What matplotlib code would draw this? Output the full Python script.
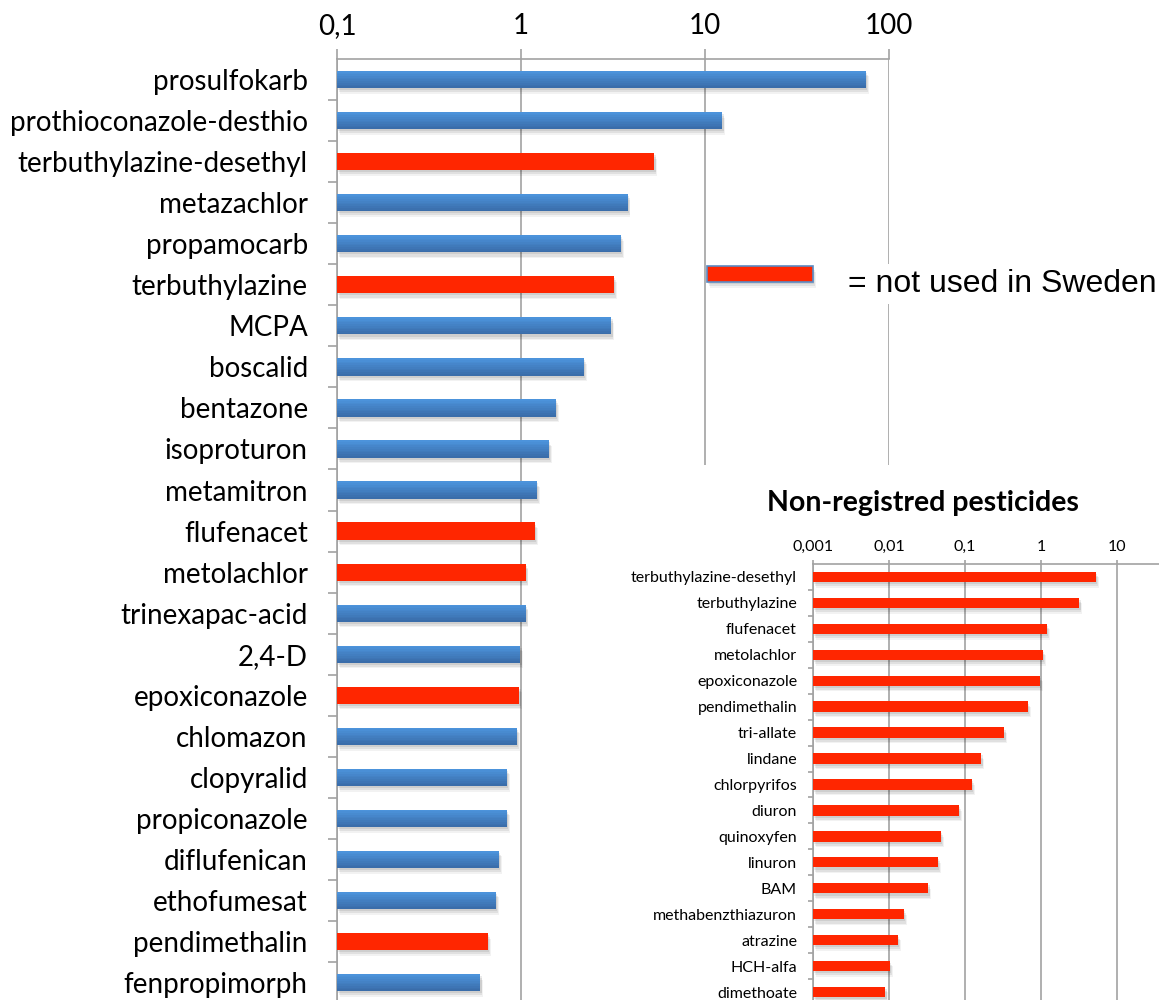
import numpy as np
import matplotlib
matplotlib.use("Agg")
import matplotlib.pyplot as plt
from matplotlib import patheffects as pe
from matplotlib.patches import Rectangle
from matplotlib.colors import to_rgb

# pesticide concentrations, main panel (top to bottom)
main_names = ["prosulfokarb", "prothioconazole-desthio", "terbuthylazine-desethyl",
              "metazachlor", "propamocarb", "terbuthylazine", "MCPA", "boscalid",
              "bentazone", "isoproturon", "metamitron", "flufenacet", "metolachlor",
              "trinexapac-acid", "2,4-D", "epoxiconazole", "chlomazon", "clopyralid",
              "propiconazole", "diflufenican", "ethofumesat", "pendimethalin",
              "fenpropimorph"]
main_vals = [75, 12.4, 5.3, 3.8, 3.5, 3.2, 3.1, 2.2, 1.55, 1.42, 1.22, 1.19, 1.06,
             1.06, 0.99, 0.98, 0.95, 0.84, 0.84, 0.76, 0.73, 0.66, 0.60]
main_banned = [0, 0, 1, 0, 0, 1, 0, 0, 0, 0, 0, 1, 1, 0, 0, 1, 0, 0, 0, 0, 0, 1, 0]
main_ticks = [0.1, 1, 10, 100]
main_ticklabels = ["0,1", "1", "10", "100"]

# non-registered substances, inset panel
ins_names = ["terbuthylazine-desethyl", "terbuthylazine", "flufenacet", "metolachlor",
             "epoxiconazole", "pendimethalin", "tri-allate", "lindane", "chlorpyrifos",
             "diuron", "quinoxyfen", "linuron", "BAM", "methabenzthiazuron",
             "atrazine", "HCH-alfa", "dimethoate"]
ins_vals = [5.3, 3.2, 1.2, 1.06, 0.97, 0.67, 0.33, 0.163, 0.124, 0.083, 0.048,
            0.044, 0.033, 0.0157, 0.0131, 0.0103, 0.0089]
ins_ticks = [0.001, 0.01, 0.1, 1, 10]
ins_ticklabels = ["0,001", "0,01", "0,1", "1", "10"]

FONT = "Lato"
RED = "#FF2600"
BLUE_TOP = "#4C93DB"
BLUE_BOT = "#3A6DAA"
GRID = "#A2A2A2"

W, H = 1159, 1000
fig = plt.figure(figsize=(W / 100, H / 100), dpi=100)


def px_axes(left, top, right, bottom):
    return [left / W, 1 - bottom / H, (right - left) / W, (bottom - top) / H]


# soft drop shadow, mostly below the bar
shadow = [pe.SimplePatchShadow(offset=(2, -4), shadow_rgbFace="k", alpha=0.05),
          pe.SimplePatchShadow(offset=(1.5, -3), shadow_rgbFace="k", alpha=0.07),
          pe.SimplePatchShadow(offset=(1, -1.5), shadow_rgbFace="k", alpha=0.08),
          pe.Normal()]


def draw_bars(ax, vals, banned, lo, h):
    y = np.arange(len(vals))
    for yi, v, b in zip(y, vals, banned):
        if b:
            ax.barh(yi, v - lo, left=lo, height=h, color=RED, zorder=3,
                    path_effects=shadow)
        else:
            ax.barh(yi, v - lo, left=lo, height=h, color=BLUE_BOT, zorder=3,
                    path_effects=shadow)
            # vertical gradient, light on top
            n = 10
            c0, c1 = np.array(to_rgb(BLUE_TOP)), np.array(to_rgb(BLUE_BOT))
            for k in range(n):
                t = k / (n - 1)
                yc = yi - h / 2 + (k + 0.5) * h / n
                ax.barh(yc, v - lo, left=lo, height=h / n * 1.05,
                        color=c0 * (1 - t) + c1 * t, zorder=4, linewidth=0)


def style_axes(ax, names, ticks, labels, lo, hi, fs, pad, sep_len, top_len):
    n = len(names)
    ax.set_xscale("log")
    ax.set_xlim(lo, hi)
    ax.set_ylim(n - 0.5, -0.5)
    ax.xaxis.set_ticks_position("top")
    ax.set_xticks(ticks)
    ax.set_xticklabels(labels, fontsize=fs, family=FONT)
    ax.xaxis.set_minor_locator(matplotlib.ticker.NullLocator())
    ax.tick_params(axis="x", which="major", length=top_len, width=1.2, color=GRID,
                   pad=pad * 0.35)
    ax.set_yticks(np.arange(n))
    ax.set_yticklabels(names, fontsize=fs, family=FONT)
    ax.set_yticks(np.arange(n - 1) + 0.5, minor=True)
    ax.tick_params(axis="y", which="major", length=0, pad=pad)
    ax.tick_params(axis="y", which="minor", length=sep_len, width=1.2, color=GRID)
    ax.grid(axis="x", which="major", color=GRID, lw=1.2, zorder=1)
    ax.set_axisbelow(True)
    for s in ["right", "bottom"]:
        ax.spines[s].set_visible(False)
    for s in ["top", "left"]:
        ax.spines[s].set_color(GRID)
        ax.spines[s].set_linewidth(1.2)
    ax.patch.set_alpha(0)


# main panel
ax = fig.add_axes(px_axes(337, 59, 889, 59 + 23 * 41.05))
draw_bars(ax, main_vals, main_banned, 0.1, 0.42)
style_axes(ax, main_names, main_ticks, main_ticklabels, 0.1, 100, 20, 21, 6.5, 7.2)
ax.set_zorder(0)

# legend swatch and note
sw = Rectangle((707 / W, 1 - 282 / H), 106 / W, 16 / H, transform=fig.transFigure,
               facecolor=RED, edgecolor="#5B8AC2", lw=1.2, zorder=2,
               path_effects=shadow)
fig.patches.append(sw)
fig.text(848 / W, 1 - 284 / H, "= not used in Sweden", fontsize=23,
         family="Liberation Sans", va="center", ha="left", zorder=2,
         bbox=dict(facecolor="white", edgecolor="none", pad=4))

# white backdrop for the inset
fig.patches.append(Rectangle((600 / W, 0), 1 - 600 / W, 1 - 465 / H,
                             transform=fig.transFigure, facecolor="white",
                             edgecolor="none", zorder=1))

# inset panel
ax2 = fig.add_axes(px_axes(813, 564, 1193, 564 + 17 * 25.94))
draw_bars(ax2, ins_vals, [1] * len(ins_vals), 0.001, 0.4)
style_axes(ax2, ins_names, ins_ticks, ins_ticklabels, 0.001, 100, 11.5, 11.5, 3.6, 3)
ax2.set_zorder(2)
fig.text(923 / W, 1 - 503 / H, "Non-registred pesticides", fontsize=20.5,
         family=FONT, weight="bold", ha="center", va="center", zorder=3)

fig.savefig("out.png", dpi=100)
